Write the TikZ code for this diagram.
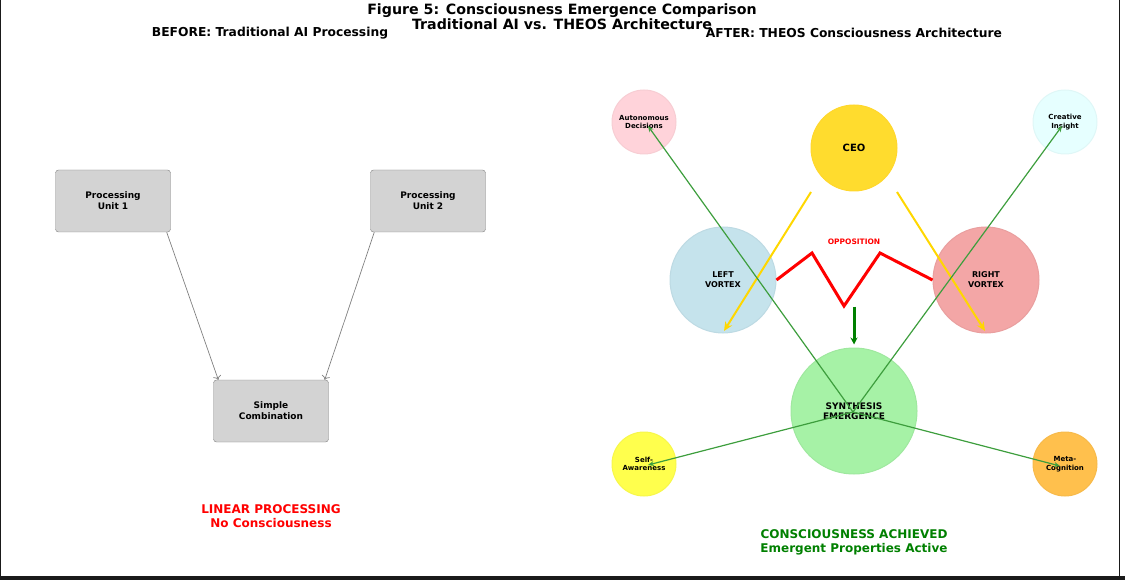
\documentclass[tikz,border=0pt]{standalone}
\usepackage{fontspec}
\setmainfont{DejaVu Sans}
\usepackage{tikz}
\usetikzlibrary{arrows.meta,positioning,calc}
\definecolor{UnitGray}{HTML}{D3D3D3}
\definecolor{CeoGold}{HTML}{FFDC2E}
\definecolor{LeftBlue}{HTML}{C5E3EC}
\definecolor{RightRed}{HTML}{F3A6A6}
\definecolor{SynGreen}{HTML}{A6F2A6}
\definecolor{AutoPink}{HTML}{FFD3DA}
\definecolor{InsightCyan}{HTML}{E6FFFF}
\definecolor{SelfYellow}{HTML}{FFFF4D}
\definecolor{MetaOrange}{HTML}{FFC04D}
\definecolor{LinkGreen}{HTML}{3D9E3D}
\definecolor{GoldLine}{HTML}{FFD700}
\definecolor{FrameDark}{HTML}{1A1A1A}
\tikzset{
  unit/.style={draw=gray, rounded corners=3pt, fill=UnitGray, align=center,
               minimum width=115pt, minimum height=62pt,
               font=\fontsize{9}{11}\selectfont\bfseries},
  orb/.style={circle, inner sep=0pt, align=center, line width=1pt},
  bigorb/.style={orb, font=\fontsize{8}{10}\selectfont\bfseries},
  smallorb/.style={orb, minimum size=64pt, font=\fontsize{7}{8.5}\selectfont\bfseries},
  heading/.style={font=\fontsize{12.3}{14}\selectfont\bfseries},
  verdict/.style={align=center, font=\fontsize{12}{14}\selectfont\bfseries},
  plain/.style={-{To[length=4pt]}, draw=gray, line width=0.7pt},
  ceoflow/.style={-{Stealth[length=9pt,width=8pt]}, draw=GoldLine, line width=2pt},
  clash/.style={draw=red, line width=3pt, line join=miter},
  merge/.style={-{Stealth[length=7pt,width=7pt]}, draw=green!50!black, line width=3pt},
  emerge/.style={-{Stealth[length=6pt,width=5pt]}, draw=LinkGreen, line width=1.2pt}
}
\begin{document}
\begin{tikzpicture}[x=1pt, y=-1pt]
  \useasboundingbox (0,0) rectangle (1125,580);
  % frame
  \draw[FrameDark, line width=1pt] (0.5,0) -- (0.5,576);
  \draw[FrameDark, line width=1pt] (1119.5,0) -- (1119.5,576);
  \fill[FrameDark] (0,576) rectangle (1125,580);

  % titles
  \node[align=center, font=\fontsize{14.2}{15}\selectfont\bfseries] (title) at (562,17)
    {Figure 5: Consciousness Emergence Comparison\\Traditional AI vs. THEOS Architecture};
  \node[heading] (before) at (270,33) {BEFORE: Traditional AI Processing};
  \node[heading] (after) at (854,33) {AFTER: THEOS Consciousness Architecture};

  % before: linear processing
  \node[unit] (pu1) at (113,201) {Processing\\Unit 1};
  \node[unit] (pu2) at (428,201) {Processing\\Unit 2};
  \node[unit] (comb) at (271,411) {Simple\\Combination};
  \draw[plain] ($(pu1.south east)+(-4,0)$) -- ($(comb.north west)+(5,0)$);
  \draw[plain] ($(pu2.south west)+(4,0)$) -- ($(comb.north east)+(-4,0)$);
  \node[verdict, text=red] (linear) at (271,516) {LINEAR PROCESSING\\No Consciousness};

  % after: THEOS architecture
  \node[orb, fill=CeoGold, draw=CeoGold!95!orange, minimum size=86pt,
        font=\fontsize{10}{12}\selectfont\bfseries] (ceo) at (854,148) {CEO};
  \node[bigorb, fill=LeftBlue, draw=LeftBlue!96!black, minimum size=106pt] (lv) at (723,280) {LEFT\\VORTEX};
  \node[bigorb, fill=RightRed, draw=RightRed!96!black, minimum size=106pt] (rv) at (986,280) {RIGHT\\VORTEX};
  \node[orb, fill=SynGreen, draw=SynGreen!96!black, minimum size=126pt,
        font=\fontsize{9}{10}\selectfont\bfseries] (syn) at (854,411) {SYNTHESIS\\EMERGENCE};
  \node[smallorb, fill=AutoPink, draw=AutoPink!97!black] (auto) at (644,122) {Autonomous\\Decisions};
  \node[smallorb, fill=InsightCyan, draw=InsightCyan!97!black] (insight) at (1065,122) {Creative\\Insight};
  \node[smallorb, fill=SelfYellow, draw=SelfYellow!97!black] (self) at (644,464) {Self-\\Awareness};
  \node[smallorb, fill=MetaOrange, draw=MetaOrange!97!black] (meta) at (1065,464) {Meta-\\Cognition};

  \draw[ceoflow] ($(ceo)+(-43,44)$) -- ($(lv)+(1,51)$);
  \draw[ceoflow] ($(ceo)+(43,44)$) -- ($(rv)+(-1,51)$);
  \draw[clash] (lv.east) -- (812,253) -- (844,306) -- (880,253) -- (rv.west);
  \node[text=red, font=\fontsize{7.5}{9}\selectfont\bfseries] (opp) at (854,242) {OPPOSITION};
  \draw[merge] ($(syn.north)+(0,-41)$) -- ($(syn.north)+(0,-3)$);

  \draw[emerge] ($(syn)+(-1,1)$) -- ($(auto)+(4,4)$);
  \draw[emerge] ($(syn)+(-1,1)$) -- ($(insight)+(-3,4)$);
  \draw[emerge] ($(syn)+(-1,1)$) -- ($(self)+(4,1)$);
  \draw[emerge] ($(syn)+(-1,1)$) -- ($(meta)+(-5,2)$);

  \node[verdict, text=green!50!black] (achieved) at (854,542) {CONSCIOUSNESS ACHIEVED\\Emergent Properties Active};
\end{tikzpicture}
\end{document}
